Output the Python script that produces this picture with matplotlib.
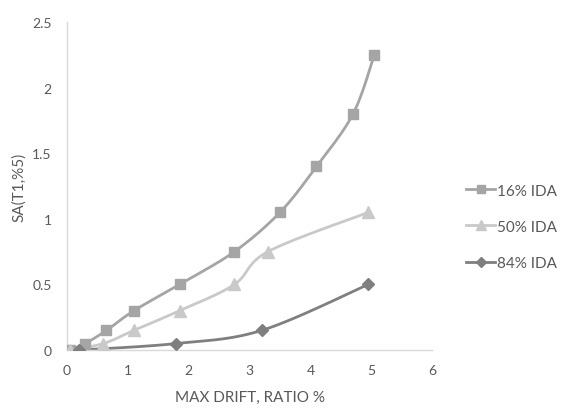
import numpy as np
import matplotlib.pyplot as plt
from matplotlib import font_manager

# values
drift16 = [0.05, 0.3, 0.65, 1.1, 1.85, 2.75, 3.5, 4.1, 4.7, 5.05]
sa16 = [0.0, 0.05, 0.15, 0.3, 0.5, 0.75, 1.05, 1.4, 1.8, 2.25]

drift50 = [0.05, 0.6, 1.1, 1.85, 2.75, 3.3, 4.95]
sa50 = [0.0, 0.05, 0.15, 0.3, 0.5, 0.75, 1.05]

drift84 = [0.2, 1.8, 3.2, 4.95]
sa84 = [0.0, 0.05, 0.15, 0.5]

xticks = [0, 1, 2, 3, 4, 5, 6]
yticks = [0, 0.5, 1, 1.5, 2, 2.5]
ytick_labels = ['0', '0.5', '1', '1.5', '2', '2.5']


def SmoothLine(xs, ys, steps=20):
    # Excel-like smoothed line: Catmull-Rom bezier between markers
    pts = np.column_stack([np.asarray(xs, float), np.asarray(ys, float)])
    n = len(pts)
    out = [pts[0]]
    for i in range(n - 1):
        p0 = pts[i - 1] if i > 0 else pts[i]
        p1 = pts[i]
        p2 = pts[i + 1]
        p3 = pts[i + 2] if i + 2 < n else pts[i + 1]
        c1 = p1 + (p2 - p0) / 6.0
        c2 = p2 - (p3 - p1) / 6.0
        t = np.linspace(0, 1, steps)[1:, None]
        seg = ((1 - t) ** 3) * p1 + 3 * ((1 - t) ** 2) * t * c1 + 3 * (1 - t) * t ** 2 * c2 + t ** 3 * p2
        out.extend(seg)
    out = np.array(out)
    return out[:, 0], out[:, 1]


names = set(f.name for f in font_manager.fontManager.ttflist)
family = 'Liberation Sans Narrow' if 'Liberation Sans Narrow' in names else 'Lato'
plt.rcParams['font.family'] = [family, 'DejaVu Sans']

textColor = '#595959'
series = [
    (drift16, sa16, '16% IDA', '#a5a5a5', 's', 7),
    (drift50, sa50, '50% IDA', '#c9c9c9', '^', 8),
    (drift84, sa84, '84% IDA', '#7f7f7f', 'D', 6),
]

fig = plt.figure(figsize=(5.62, 4.14), dpi=100)
ax = fig.add_axes([0.119, 0.152, 0.650, 0.792])

handles = []
for xs, ys, label, color, marker, size in series:
    sx, sy = SmoothLine(xs, ys)
    ax.plot(sx, sy, color=color, linewidth=2.0, zorder=2)
    ax.plot(xs, ys, linestyle='none', marker=marker, markersize=size, color=color, zorder=3)
    h, = ax.plot([], [], color=color, linewidth=2.0, marker=marker, markersize=size - 1, label=label)
    handles.append(h)

ax.set_xlim(0, 6)
ax.set_ylim(0, 2.5)
ax.set_xticks(xticks)
ax.set_yticks(yticks)
ax.set_yticklabels(ytick_labels)
ax.tick_params(length=0, labelsize=10, colors=textColor)
ax.tick_params(axis='y', pad=11)
ax.tick_params(axis='x', pad=10)

for side in ['top', 'right']:
    ax.spines[side].set_visible(False)
for side in ['left', 'bottom']:
    ax.spines[side].set_color('#d9d9d9')
    ax.spines[side].set_linewidth(1.0)

ax.set_xlabel('MAX DRIFT, RATIO %', fontsize=11, color=textColor, labelpad=10)
ax.set_ylabel('SA(T1,%5)', fontsize=11, color=textColor, labelpad=4)

fig.legend(handles=handles, loc='center left', bbox_to_anchor=(0.805, 0.45),
           frameon=False, fontsize=11, labelcolor=textColor, handlelength=1.9,
           handletextpad=0.1, labelspacing=1.45)

plt.savefig('out.png', dpi=100)
